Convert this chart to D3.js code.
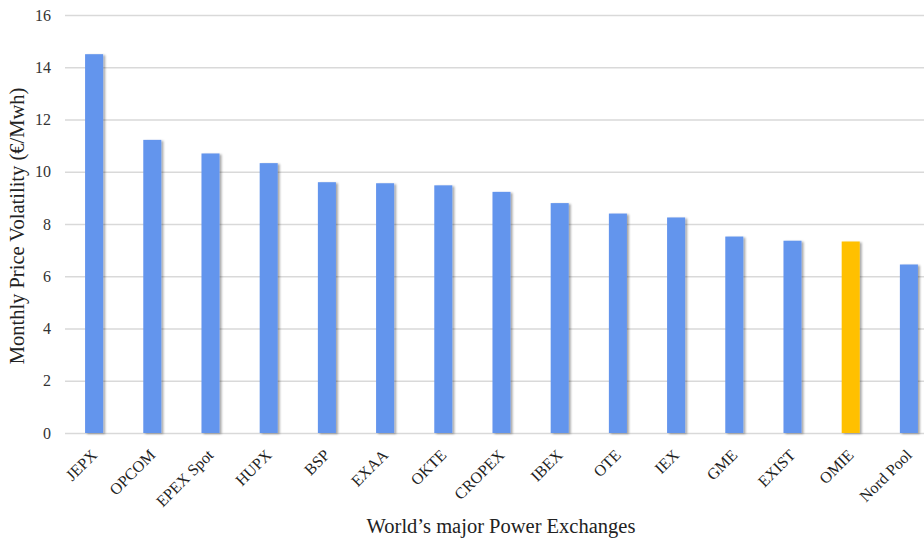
<!DOCTYPE html>
<html>
<head>
<meta charset="utf-8">
<script src="https://cdn.jsdelivr.net/npm/d3@7"></script>
<style>
  body { margin: 0; background: #fff; }
  svg { display: block; font-family: "Liberation Serif", "Times New Roman", serif; }
</style>
</head>
<body>
<svg id="chart" width="924" height="542"></svg>
<script>
const exchanges = ["JEPX", "OPCOM", "EPEX Spot", "HUPX", "BSP", "EXAA", "OKTE", "CROPEX", "IBEX", "OTE", "IEX", "GME", "EXIST", "OMIE", "Nord Pool"]
const volatility = [14.5, 11.22, 10.7, 10.33, 9.6, 9.56, 9.48, 9.23, 8.8, 8.4, 8.25, 7.52, 7.36, 7.33, 6.45]
const highlight = "OMIE"
const yTicks = [0, 2, 4, 6, 8, 10, 12, 14, 16]

const svg = d3.select("#chart")
const width = 924, height = 542
const margin = {left: 65, top: 15, bottom: 109}
const plotRight = 938  // the original chart is clipped on the right
const labelSize = 16

const x = d3.scaleBand().domain(exchanges).range([margin.left, plotRight]).paddingInner(0.69).paddingOuter(0.345)
const y = d3.scaleLinear().domain([0, 16]).range([height - margin.bottom, margin.top])

// soft shadow like the office chart style
const defs = svg.append("defs")
const f = defs.append("filter").attr("id", "shadow").attr("x", "-20%").attr("y", "-5%").attr("width", "160%").attr("height", "110%")
f.append("feDropShadow").attr("dx", 2).attr("dy", 1).attr("stdDeviation", 1.3).attr("flood-color", "#000").attr("flood-opacity", 0.35)

// gridlines + y labels
const yAxis = d3.axisLeft(y).tickValues(yTicks).tickSize(-(width - margin.left)).tickPadding(14)
const gy = svg.append("g").attr("transform", `translate(${margin.left},0)`).call(yAxis)
gy.select(".domain").remove()
gy.selectAll(".tick line").attr("stroke", "#d9d9d9").attr("stroke-width", 1.3)
gy.selectAll(".tick text").attr("font-size", 16).attr("fill", "#333").attr("font-family", "Liberation Serif, serif")

// bars
svg.append("g").selectAll("rect").data(exchanges).join("rect")
  .attr("x", d => x(d))
  .attr("y", (d, i) => y(volatility[i]))
  .attr("width", x.bandwidth())
  .attr("height", (d, i) => y(0) - y(volatility[i]))
  .attr("fill", d => d === highlight ? "#ffc000" : "#6495ed")
  .attr("filter", "url(#shadow)")

// x labels, rotated 45deg
svg.append("g").attr("class", "x-labels")
  .selectAll("text").data(exchanges).join("text")
  .attr("font-size", labelSize).attr("fill", "#222")
  .attr("text-anchor", "end")
  .attr("transform", d => `translate(${x(d) + x.bandwidth() / 2 + 4},${y(0) + 23}) rotate(-45)`)
  .text(d => d)

// axis titles
svg.append("text")
  .attr("x", 501).attr("y", 533)
  .attr("text-anchor", "middle")
  .attr("font-size", 20.5).attr("fill", "#222")
  .text("World’s major Power Exchanges")

svg.append("text")
  .attr("transform", `translate(24,226) rotate(-90)`)
  .attr("text-anchor", "middle")
  .attr("font-size", 20.5).attr("fill", "#222")
  .text("Monthly Price Volatility (€/Mwh)")
</script>
</body>
</html>
